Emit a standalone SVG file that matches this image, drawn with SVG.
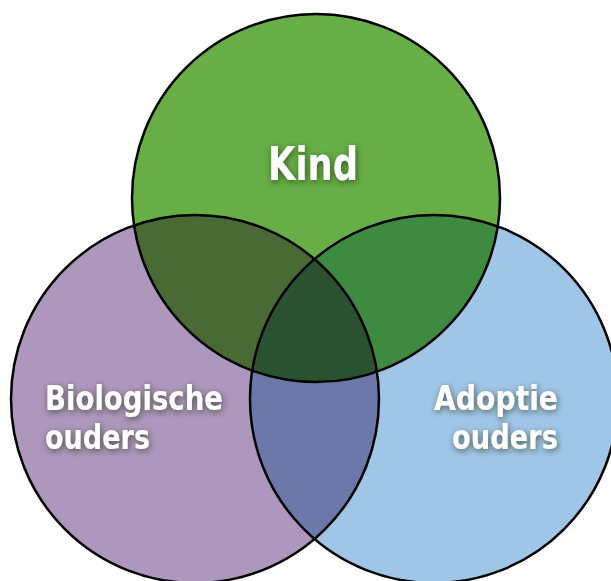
<svg xmlns="http://www.w3.org/2000/svg" width="611" height="581" viewBox="0 0 611 581">
<style>
.lbl{font-family:"DejaVu Sans Condensed","DejaVu Sans",sans-serif;font-stretch:condensed;font-weight:700;fill:#ffffff;filter:url(#glow)}
.ring{fill:none;stroke:#000;stroke-width:2.5}
</style>
<defs>
<filter id="glow" x="-30%" y="-50%" width="160%" height="200%">
<feDropShadow dx="1" dy="2" stdDeviation="3" flood-color="#1a2a18" flood-opacity="0.65"/>
</filter>
<clipPath id="cK"><circle cx="316" cy="198" r="184"/></clipPath>
<clipPath id="cP"><circle cx="195" cy="399" r="184"/></clipPath>
<clipPath id="cB"><circle cx="434" cy="399" r="184"/></clipPath>
</defs>
<rect width="611" height="581" fill="#ffffff"/>
<g id="fills">
<circle cx="195" cy="399" r="184" fill="#ad97bc"/>
<circle cx="434" cy="399" r="184" fill="#a0c6e7"/>
<circle cx="316" cy="198" r="184" fill="#67ae47"/>
<g clip-path="url(#cK)"><circle cx="195" cy="399" r="184" fill="#496a34"/><circle cx="434" cy="399" r="184" fill="#3e8a40"/></g>
<g clip-path="url(#cP)"><circle cx="434" cy="399" r="184" fill="#6b78a9"/></g>
<g clip-path="url(#cP)"><g clip-path="url(#cB)"><circle cx="316" cy="198" r="184" fill="#2b5230"/></g></g>
</g>
<g id="node-kind">
<circle class="ring" cx="316" cy="198" r="184"/>
<text class="lbl" x="268" y="180" font-size="47" textLength="90" lengthAdjust="spacingAndGlyphs">Kind</text>
</g>
<g id="node-bio">
<circle class="ring" cx="195" cy="399" r="184"/>
<text class="lbl" x="45" y="410" font-size="33" textLength="178" lengthAdjust="spacingAndGlyphs">Biologische</text>
<text class="lbl" x="45" y="449" font-size="33" textLength="105" lengthAdjust="spacingAndGlyphs">ouders</text>
</g>
<g id="node-adoptie">
<circle class="ring" cx="434" cy="399" r="184"/>
<text class="lbl" x="434" y="410" font-size="33" textLength="124" lengthAdjust="spacingAndGlyphs">Adoptie</text>
<text class="lbl" x="452" y="449" font-size="33" textLength="106" lengthAdjust="spacingAndGlyphs">ouders</text>
</g>
<g id="connectors"/>
</svg>
